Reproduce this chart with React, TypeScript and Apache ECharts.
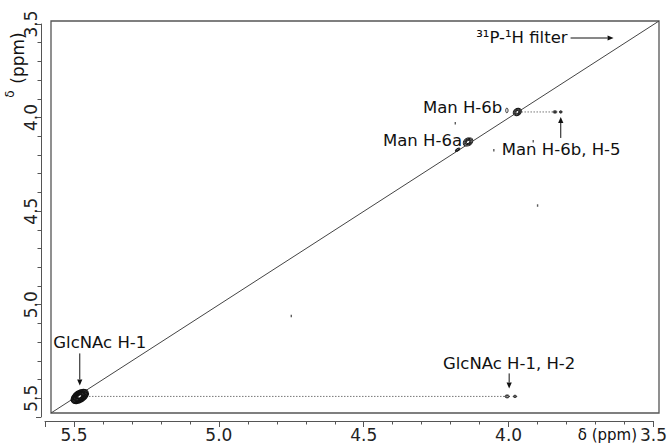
import React, { useEffect, useRef } from "react";
import * as echarts from "echarts";

// ---------- data (ppm) ----------
const axisMin = 3.5;
const axisMax = 5.6;
const majorInterval = 0.5;
const minorInterval = 0.1;
const tickLabels = ["5.5", "5.0", "4.5", "4.0", "3.5"];

// extent of the spectrum frame (ppm)
const frameX = [3.51, 5.578];
const frameY = [3.484, 5.58];

// diagonal peaks: [δ F2, δ F1, semi-axis a (ppm), semi-axis b (ppm), contour levels]
const diagonalPeaks = [
  [5.48, 5.49, 0.033, 0.02, 10], // GlcNAc H-1
  [3.97, 3.97, 0.015, 0.012, 4], // Man H-6b
  [4.14, 4.13, 0.018, 0.013, 4], // Man H-6a
  [4.176, 4.172, 0.009, 0.004, 2],
];
// cross / off-diagonal peaks
const crossPeaks = [
  [4.005, 5.49, 0.008, 0.005, 2], // GlcNAc H-2
  [3.978, 5.49, 0.006, 0.004, 2],
  [3.84, 3.97, 0.007, 0.004, 2], // Man H-5
  [3.82, 3.97, 0.005, 0.004, 2],
  [4.006, 3.962, 0.004, 0.008, 1],
];
// dotted connectors: [diagonal peak index, cross peak index]
const connections = [
  [0, 0],
  [1, 2],
];
// tiny noise specks
const specks = [
  [4.184, 4.03],
  [4.051, 4.174],
  [3.915, 4.126],
  [3.9, 4.47],
  [4.75, 5.06],
];

// annotations anchored on peaks
const labels = {
  glcH1: "GlcNAc H-1",
  glcH1H2: "GlcNAc H-1, H-2",
  man6b: "Man H-6b",
  man6a: "Man H-6a",
  man6bH5: "Man H-6b, H-5",
  filter: "³¹P-¹H filter",
};
const axisName = "δ (ppm)";

const FONT = '"DejaVu Sans", Verdana, sans-serif';
const INK = "#111";

function contourRenderer(rotationDeg: number) {
  return (params: any, api: any) => {
    const c = api.coord([api.value(0), api.value(1)]);
    const px = Math.abs(api.size([1, 1])[0]);
    const a = api.value(2) * px;
    const b = api.value(3) * px;
    const n = api.value(4);
    const children: any[] = [];
    for (let i = 0; i < n; i++) {
      const k = 1 - (i / n) * 0.85;
      children.push({
        type: "ellipse",
        shape: { cx: 0, cy: 0, rx: a * k, ry: b * k },
        style: { fill: i === 0 ? "#fff" : "none", stroke: INK, lineWidth: n > 6 ? 1.2 : 0.9 },
      });
    }
    return {
      type: "group",
      x: c[0],
      y: c[1],
      rotation: (rotationDeg * Math.PI) / 180,
      children,
    };
  };
}

function fmt(v: number) {
  const s = v.toFixed(1);
  return tickLabels.indexOf(s) >= 0 ? s : "";
}

function arrowEls(x1: number, y1: number, x2: number, y2: number) {
  const dx = x2 - x1;
  const dy = y2 - y1;
  const len = Math.sqrt(dx * dx + dy * dy);
  const ux = dx / len;
  const uy = dy / len;
  const hl = 6;
  const hw = 2.6;
  const bx = x2 - ux * hl;
  const by = y2 - uy * hl;
  return [
    {
      type: "line",
      shape: { x1, y1, x2: bx, y2: by },
      style: { stroke: INK, lineWidth: 1 },
    },
    {
      type: "polygon",
      shape: {
        points: [
          [x2, y2],
          [bx - uy * hw, by + ux * hw],
          [bx + uy * hw, by - ux * hw],
        ],
      },
      style: { fill: INK },
    },
  ];
}

export default function App() {
  const ref = useRef<HTMLDivElement>(null);

  useEffect(() => {
    document.body.style.margin = "0";
    const chart = echarts.init(ref.current!, null, { renderer: "svg" });

    const axisBase = {
      type: "value",
      min: axisMin,
      max: axisMax,
      inverse: true,
      offset: 4,
      splitLine: { show: false },
    };

    const dottedSeries = connections.map(([di, ci]) => {
      const d = diagonalPeaks[di];
      const c = crossPeaks[ci];
      return {
        type: "line",
        xAxisIndex: 0,
        yAxisIndex: 0,
        data: [
          [d[0] - d[2], d[1]],
          [c[0] + c[2], d[1]],
        ],
        symbol: "none",
        silent: true,
        lineStyle: { color: "#333", width: 1, type: [1, 2] },
        z: 3,
      };
    });

    chart.setOption({
      animation: false,
      backgroundColor: "#fff",
      grid: [
        { left: 45, top: 24, width: 617, height: 393, show: false },
        {
          left: 51,
          top: 21,
          width: 608,
          height: 392,
          show: true,
          borderColor: "#555",
          borderWidth: 1.3,
          backgroundColor: "transparent",
        },
      ],
      xAxis: [
        {
          ...axisBase,
          gridIndex: 0,
          position: "bottom",
          interval: majorInterval,
          axisLine: { show: true, onZero: false, lineStyle: { color: "#555", width: 1 } },
          axisTick: { show: true, length: 6, lineStyle: { color: "#555" } },
          axisLabel: {
            formatter: fmt,
            fontSize: 17,
            fontFamily: FONT,
            color: "#222",
            margin: 5,
          },
        },
        {
          ...axisBase,
          gridIndex: 0,
          position: "bottom",
          interval: minorInterval,
          axisLine: { show: false, onZero: false },
          axisTick: { show: true, length: 3.5, lineStyle: { color: "#555" } },
          axisLabel: { show: false },
        },
        {
          type: "value",
          gridIndex: 1,
          min: frameX[0],
          max: frameX[1],
          inverse: true,
          show: false,
        },
      ],
      yAxis: [
        {
          ...axisBase,
          gridIndex: 0,
          position: "left",
          interval: majorInterval,
          axisLine: { show: true, onZero: false, lineStyle: { color: "#555", width: 1 } },
          axisTick: { show: true, length: 5, lineStyle: { color: "#555" } },
          axisLabel: {
            formatter: fmt,
            rotate: 90,
            fontSize: 17,
            fontFamily: FONT,
            color: "#222",
            margin: 2,
          },
        },
        {
          ...axisBase,
          gridIndex: 0,
          position: "left",
          interval: minorInterval,
          axisLine: { show: false, onZero: false },
          axisTick: { show: true, length: 3.5, lineStyle: { color: "#555" } },
          axisLabel: { show: false },
        },
        {
          type: "value",
          gridIndex: 1,
          min: frameY[0],
          max: frameY[1],
          inverse: true,
          show: false,
        },
      ],
      series: [
        {
          type: "line",
          xAxisIndex: 2,
          yAxisIndex: 2,
          data: [
            [frameX[1], frameY[1]],
            [frameX[0], frameY[0]],
          ],
          symbol: "none",
          silent: true,
          lineStyle: { color: "#444", width: 1 },
          z: 2,
        },
        ...dottedSeries,
        {
          type: "custom",
          xAxisIndex: 0,
          yAxisIndex: 0,
          data: diagonalPeaks,
          renderItem: contourRenderer(33),
          silent: true,
          z: 5,
        },
        {
          type: "custom",
          xAxisIndex: 0,
          yAxisIndex: 0,
          data: crossPeaks,
          renderItem: contourRenderer(0),
          silent: true,
          z: 5,
        },
        {
          type: "scatter",
          xAxisIndex: 0,
          yAxisIndex: 0,
          data: specks,
          symbol: "rect",
          symbolSize: [1.4, 2.5],
          itemStyle: { color: "#333" },
          silent: true,
          z: 4,
        },
      ],
    });

    const P = (v: number[]) => chart.convertToPixel({ gridIndex: 0 } as any, v) as number[];
    const glc = P([diagonalPeaks[0][0], diagonalPeaks[0][1]]);
    const glcX = P([crossPeaks[0][0], crossPeaks[0][1]]);
    const m6b = P([diagonalPeaks[1][0], diagonalPeaks[1][1]]);
    const m6a = P([diagonalPeaks[2][0], diagonalPeaks[2][1]]);
    const m6bX = P([crossPeaks[3][0], crossPeaks[3][1]]);
    const corner = P([frameX[0], axisMin]);

    const txt = (text: string, x: number, y: number, align: string, size = 16.5) => ({
      type: "text",
      x,
      y,
      style: {
        text,
        font: `${size}px ${FONT}`,
        fill: INK,
        align,
        verticalAlign: "middle",
      },
      z: 10,
    });

    const graphics: any[] = [
      txt(labels.glcH1, glc[0] + 20, glc[1] - 54, "center"),
      ...arrowEls(glc[0], glc[1] - 43, glc[0], glc[1] - 11),
      txt(labels.glcH1H2, glcX[0] + 2, glcX[1] - 33, "center"),
      ...arrowEls(glcX[0] + 2, glcX[1] - 23, glcX[0] + 2, glcX[1] - 8),
      txt(labels.man6b, m6b[0] - 15, m6b[1] - 4, "right"),
      txt(labels.man6a, m6a[0] - 6, m6a[1] - 1, "right"),
      txt(labels.man6bH5, m6bX[0] - 59, m6bX[1] + 38, "left"),
      ...arrowEls(m6bX[0], m6bX[1] + 26, m6bX[0], m6bX[1] + 5),
      txt(labels.filter, corner[0] - 83, corner[1] + 13, "right"),
      ...arrowEls(corner[0] - 80, corner[1] + 14, corner[0] - 37, corner[1] + 14),
      // axis names
      txt(axisName, 637, 435, "right", 15),
      {
        type: "text",
        x: 17.5,
        y: 58,
        rotation: Math.PI / 2,
        style: {
          text: "(ppm)",
          font: `17px ${FONT}`,
          fill: INK,
          align: "center",
          verticalAlign: "middle",
        },
      },
      {
        type: "text",
        x: 10,
        y: 94,
        rotation: Math.PI / 2,
        style: {
          text: "δ",
          font: `12px ${FONT}`,
          fill: INK,
          align: "center",
          verticalAlign: "middle",
        },
      },
    ];
    chart.setOption({ graphic: graphics });

    return () => chart.dispose();
  }, []);

  return (
    <div
      ref={ref}
      style={{ position: "fixed", left: 0, top: 0, width: 670, height: 445, background: "#fff" }}
    />
  );
}
